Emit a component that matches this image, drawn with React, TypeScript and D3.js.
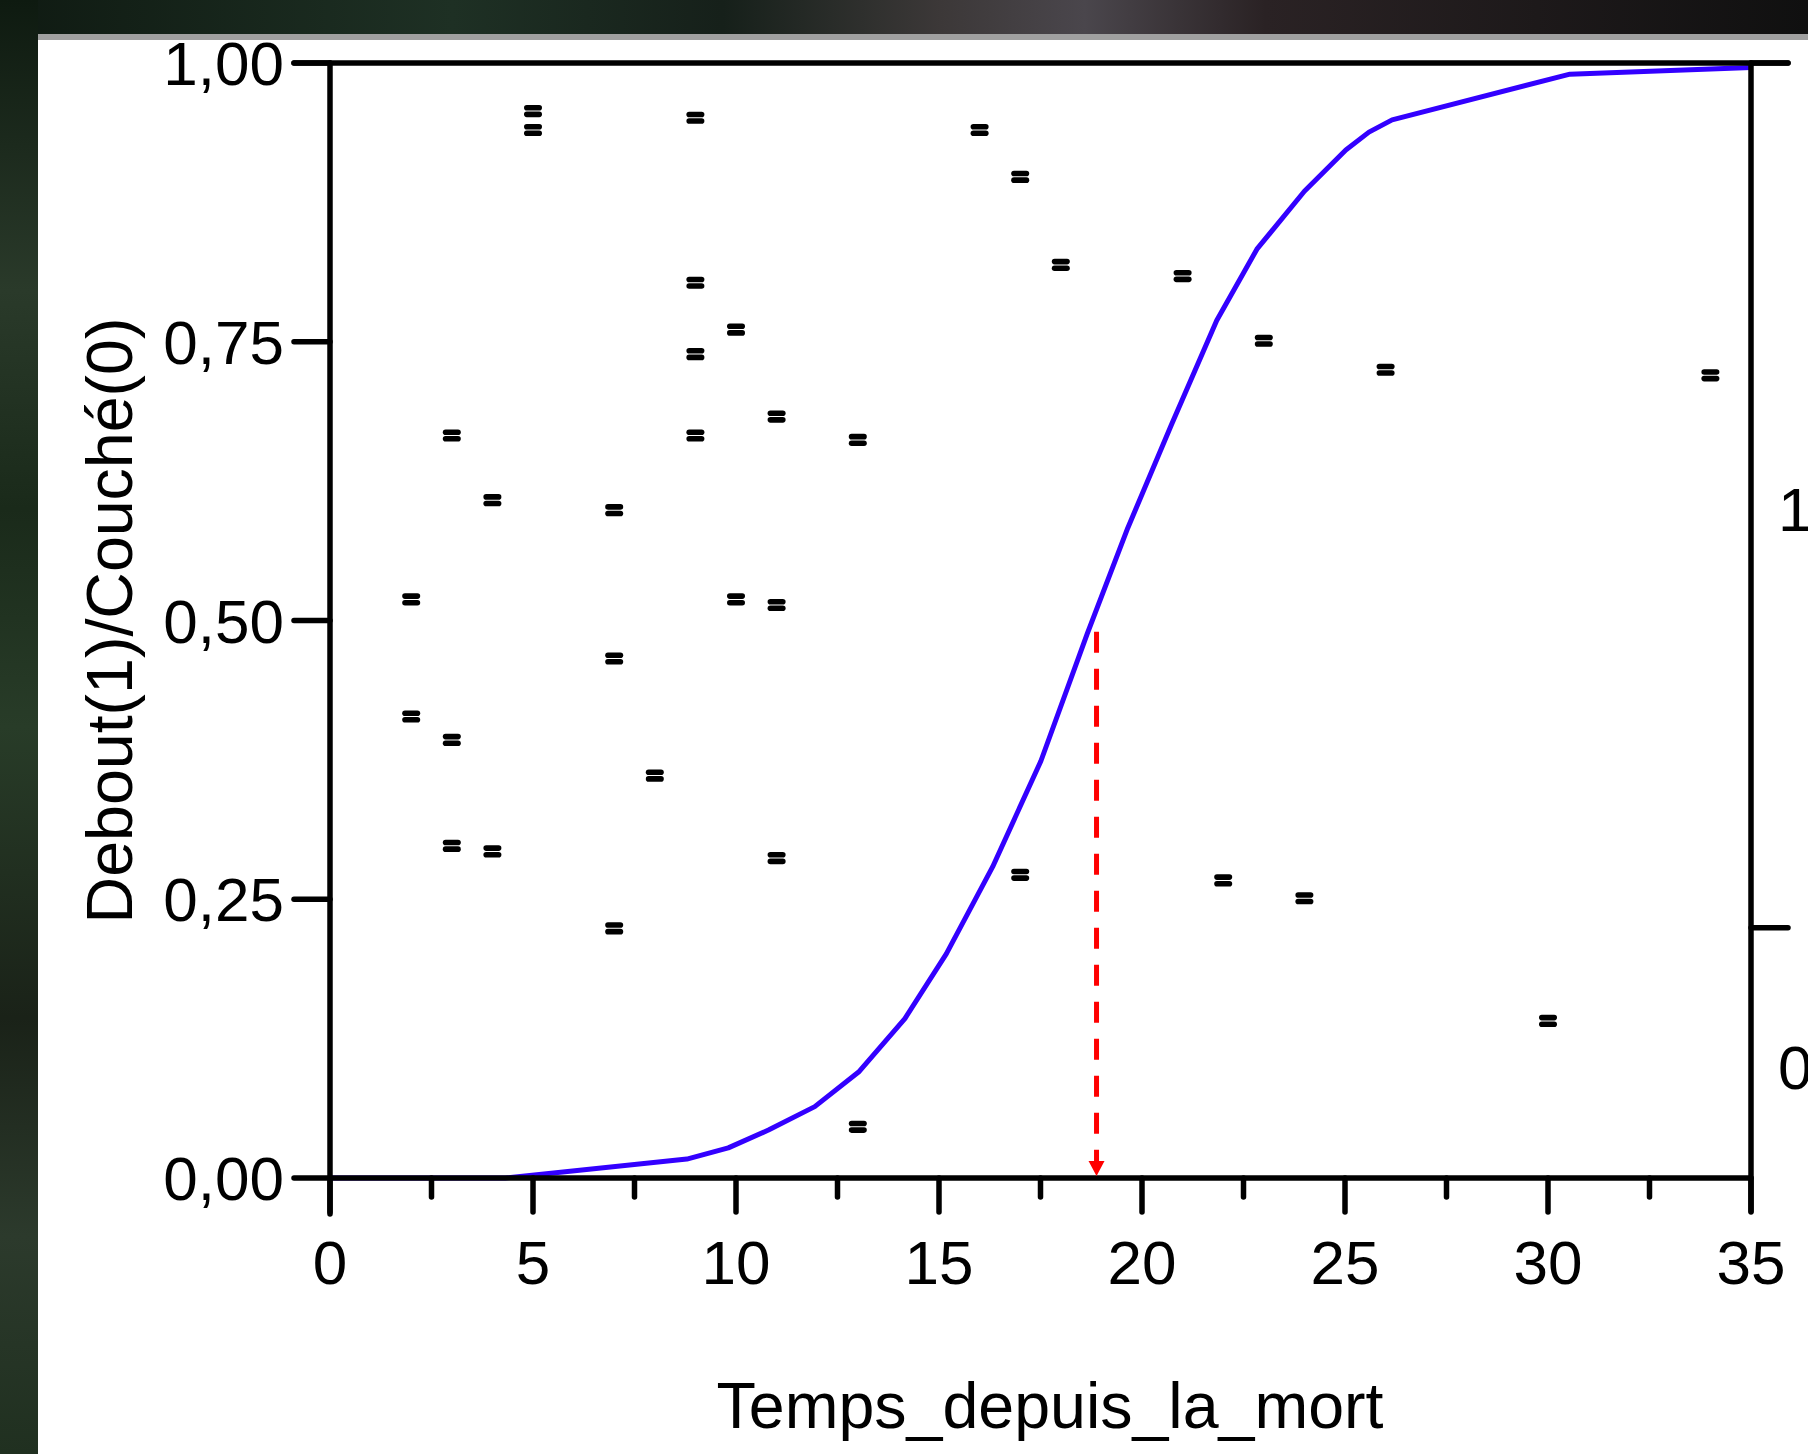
import React from "react";
import * as d3 from "d3";

// Scatter points (time, jittered response position)
const pointTime = [2, 2, 3, 3, 3, 4, 4, 5, 5, 7, 7, 7, 8, 9, 9, 9, 9, 10, 10, 11, 11, 11, 13, 13, 16, 17, 17, 18, 21, 22, 23, 24, 26, 30, 34];
const pointValue = [0.519, 0.414, 0.666, 0.393, 0.298, 0.608, 0.293, 0.957, 0.940, 0.599, 0.466, 0.224, 0.361, 0.951, 0.803, 0.739, 0.666, 0.761, 0.519, 0.683, 0.514, 0.287, 0.662, 0.046, 0.940, 0.898, 0.272, 0.819, 0.809, 0.267, 0.751, 0.251, 0.725, 0.141, 0.720];

// Fitted logistic curve vertices
const curveTime = [0, 4.32, 8.79, 9.81, 10.8, 11.94, 13.02, 14.16, 15.18, 16.32, 17.51, 18.65, 19.65, 20.73, 21.84, 22.83, 24.0, 25.02, 25.59, 26.16, 30.54, 35];
const curveProb = [0, 0, 0.017, 0.027, 0.043, 0.064, 0.095, 0.143, 0.201, 0.279, 0.374, 0.488, 0.583, 0.676, 0.769, 0.833, 0.885, 0.922, 0.938, 0.949, 0.99, 0.996];

// Red dashed arrow (time at 50%)
const arrowTime = [18.88];
const arrowTop = [0.49];

const xTicks = [0, 5, 10, 15, 20, 25, 30, 35];
const xMinorTicks = [2.5, 7.5, 12.5, 17.5, 22.5, 27.5, 32.5];
const yTicks = [0, 0.25, 0.5, 0.75, 1];
const yTickLabels = ["0,00", "0,25", "0,50", "0,75", "1,00"];
const rightBounds = [1, 0.2244];
const rightLabels = ["1", "0"];
const rightLabelPos = [0.6, 0.1];

const xTitle = "Temps_depuis_la_mort";
const yTitle = "Debout(1)/Couché(0)";

export default function App() {
  const W = 1808, H = 1454;
  const left = 330, right = 1751, top = 63, bottom = 1178;
  const x = d3.scaleLinear().domain([0, 35]).range([left, right]);
  const y = d3.scaleLinear().domain([0, 1]).range([bottom, top]);
  const font = "'Liberation Sans', Arial, Helvetica, sans-serif";
  const fs = 62;
  const sw = 5.5;

  const line = d3
    .line<number>()
    .x((_, i) => x(curveTime[i]))
    .y((d) => y(d));
  const curvePath = line(curveProb) || "";

  const ax = x(arrowTime[0]);

  return (
    <svg
      width={W}
      height={H}
      viewBox={`0 0 ${W} ${H}`}
      style={{ position: "absolute", left: 0, top: 0 }}
    >
      <defs>
        <linearGradient id="topband" x1="0" y1="0" x2="1" y2="0">
          <stop offset="0" stopColor="#0f1a12" />
          <stop offset="0.25" stopColor="#1e3024" />
          <stop offset="0.4" stopColor="#16201a" />
          <stop offset="0.52" stopColor="#3c3838" />
          <stop offset="0.6" stopColor="#4a464c" />
          <stop offset="0.7" stopColor="#2a2224" />
          <stop offset="1" stopColor="#101010" />
        </linearGradient>
        <linearGradient id="leftband" x1="0" y1="0" x2="0" y2="1">
          <stop offset="0" stopColor="#0e1a10" />
          <stop offset="0.2" stopColor="#2a3a2a" />
          <stop offset="0.35" stopColor="#1a2a1a" />
          <stop offset="0.5" stopColor="#283c28" />
          <stop offset="0.7" stopColor="#1a2218" />
          <stop offset="0.85" stopColor="#2c3a2c" />
          <stop offset="1" stopColor="#203020" />
        </linearGradient>
      </defs>
      <rect x={0} y={0} width={W} height={H} fill="#ffffff" />
      <rect x={0} y={0} width={W} height={35} fill="url(#topband)" />
      <rect x={0} y={0} width={38} height={H} fill="url(#leftband)" />
      <rect x={38} y={34} width={W - 38} height={6} fill="#a0a0a0" />

      {/* curve */}
      <path d={curvePath} fill="none" stroke="#3300ff" strokeWidth={5} strokeLinejoin="round" />

      {/* axes frame */}
      <g stroke="#000" strokeWidth={sw} strokeLinecap="round" fill="none">
        <line x1={left} y1={top} x2={left} y2={bottom + 36} />
        <line x1={left} y1={bottom} x2={right} y2={bottom} />
        <line x1={right} y1={top} x2={right} y2={bottom + 33} />
        <line x1={left - 36} y1={top} x2={right + 37} y2={top} />
        {yTicks.map((t) => (
          <line key={"yt" + t} x1={left - 36} y1={y(t)} x2={left} y2={y(t)} />
        ))}
        {xTicks.map((t) => (
          <line key={"xt" + t} x1={x(t)} y1={bottom} x2={x(t)} y2={bottom + 34} />
        ))}
        {xMinorTicks.map((t) => (
          <line key={"xm" + t} x1={x(t)} y1={bottom} x2={x(t)} y2={bottom + 19} />
        ))}
        {rightBounds.map((b) => (
          <line key={"rb" + b} x1={right} y1={y(b)} x2={right + 37} y2={y(b)} />
        ))}
      </g>

      {/* points */}
      <g fill="#000">
        {pointTime.map((t, i) => {
          const cx = x(t);
          const cy = y(pointValue[i]);
          return (
            <g key={"p" + i}>
              <rect x={cx - 9} y={cy - 6} width={18} height={5.6} rx={2.8} />
              <rect x={cx - 9} y={cy + 0.6} width={18} height={5.6} rx={2.8} />
            </g>
          );
        })}
      </g>

      {/* red arrow */}
      <line
        x1={ax}
        y1={y(arrowTop[0])}
        x2={ax}
        y2={bottom - 16}
        stroke="#ff0000"
        strokeWidth={5}
        strokeDasharray="21 16"
      />
      <path
        d={`M${ax - 8},${bottom - 17} L${ax + 8},${bottom - 17} L${ax},${bottom - 2} Z`}
        fill="#ff0000"
      />

      {/* tick labels */}
      <g fontFamily={font} fontSize={fs} fill="#000">
        {yTicks.map((t, i) => (
          <text key={"yl" + t} x={left - 46} y={y(t) + 22} textAnchor="end">
            {yTickLabels[i]}
          </text>
        ))}
        {xTicks.map((t) => (
          <text key={"xl" + t} x={x(t)} y={bottom + 106} textAnchor="middle">
            {String(t)}
          </text>
        ))}
        {rightLabels.map((l, i) => (
          <text key={"rl" + l} x={right + 27} y={y(rightLabelPos[i]) + 22} textAnchor="start">
            {l}
          </text>
        ))}
        <text x={1050} y={1428} textAnchor="middle" fontSize={64.5}>
          {xTitle}
        </text>
        <text transform={`translate(132, ${(top + bottom) / 2}) rotate(-90)`} textAnchor="middle" fontSize={64.5}>
          {yTitle}
        </text>
      </g>
    </svg>
  );
}
